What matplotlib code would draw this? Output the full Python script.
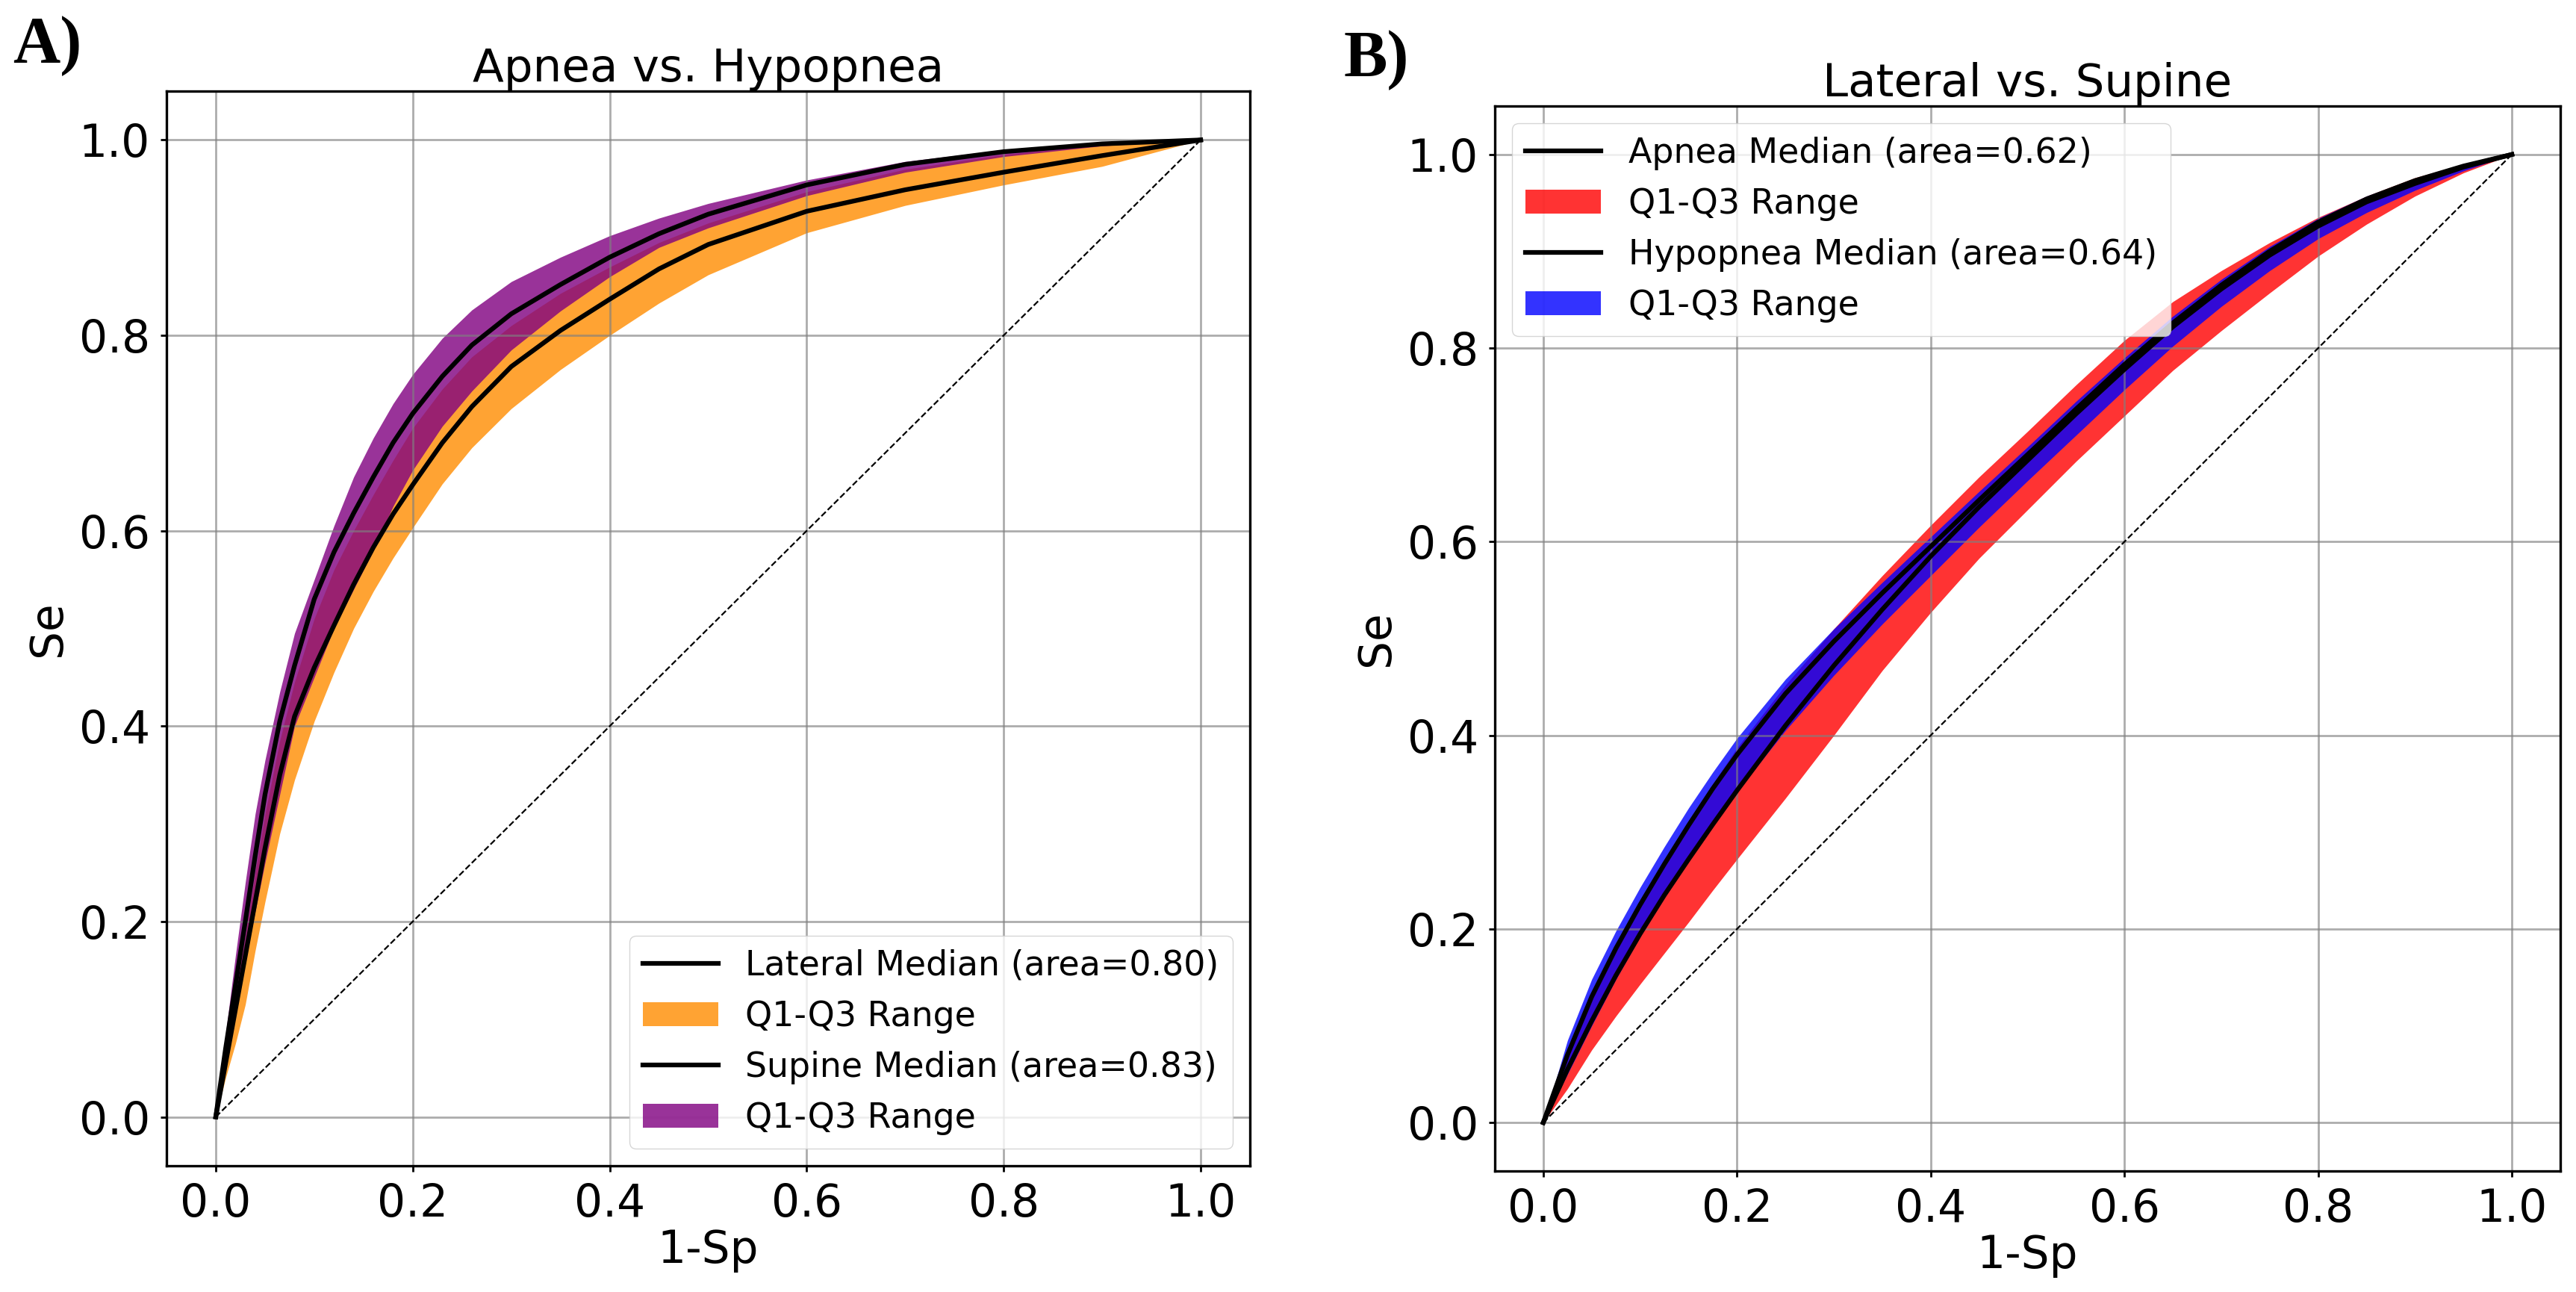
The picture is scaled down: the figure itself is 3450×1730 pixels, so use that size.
import matplotlib
matplotlib.use("Agg")
import matplotlib.pyplot as plt
import numpy as np

# ---------------- Panel A data: Apnea vs. Hypopnea ----------------
xA = [0, 0.01, 0.02, 0.03, 0.04, 0.05, 0.065, 0.08, 0.1, 0.12, 0.14, 0.16, 0.18, 0.2,
      0.23, 0.26, 0.3, 0.35, 0.4, 0.45, 0.5, 0.6, 0.7, 0.8, 0.9, 1.0]
lateral_median = [0, 0.055, 0.11, 0.165, 0.22, 0.275, 0.35, 0.41, 0.46, 0.503, 0.545, 0.583, 0.617, 0.647,
                  0.69, 0.727, 0.768, 0.805, 0.837, 0.868, 0.893, 0.927, 0.949, 0.967, 0.984, 1.0]
lateral_q1 = [0, 0.04, 0.075, 0.115, 0.17, 0.22, 0.29, 0.345, 0.405, 0.455, 0.5, 0.538, 0.572, 0.603,
              0.648, 0.685, 0.725, 0.765, 0.8, 0.833, 0.862, 0.905, 0.933, 0.954, 0.973, 1.0]
lateral_q3 = [0, 0.065, 0.125, 0.185, 0.25, 0.31, 0.385, 0.445, 0.51, 0.56, 0.6, 0.637, 0.672, 0.705,
              0.745, 0.778, 0.81, 0.843, 0.87, 0.895, 0.915, 0.947, 0.97, 0.985, 0.995, 1.0]
supine_median = [0, 0.07, 0.135, 0.2, 0.267, 0.33, 0.405, 0.462, 0.53, 0.578, 0.618, 0.655, 0.69, 0.72,
                 0.758, 0.79, 0.822, 0.852, 0.88, 0.904, 0.924, 0.954, 0.975, 0.988, 0.996, 1.0]
supine_q1 = [0, 0.055, 0.11, 0.16, 0.21, 0.26, 0.33, 0.4, 0.45, 0.5, 0.54, 0.58, 0.625, 0.662,
             0.707, 0.743, 0.785, 0.825, 0.86, 0.89, 0.91, 0.943, 0.967, 0.983, 0.994, 1.0]
supine_q3 = [0, 0.085, 0.165, 0.24, 0.31, 0.365, 0.435, 0.495, 0.55, 0.605, 0.655, 0.695, 0.73, 0.76,
             0.797, 0.826, 0.855, 0.88, 0.902, 0.92, 0.935, 0.959, 0.978, 0.99, 0.997, 1.0]

# ---------------- Panel B data: Lateral vs. Supine ----------------
xB = [0, 0.025, 0.05, 0.075, 0.1, 0.125, 0.15, 0.175, 0.2, 0.25, 0.3, 0.35, 0.4, 0.45, 0.5,
      0.55, 0.6, 0.65, 0.7, 0.75, 0.8, 0.85, 0.9, 0.95, 1.0]
apnea_median = [0, 0.055, 0.105, 0.152, 0.195, 0.235, 0.272, 0.308, 0.343, 0.41, 0.472, 0.53, 0.585, 0.636, 0.684,
                0.732, 0.778, 0.822, 0.861, 0.896, 0.926, 0.951, 0.97, 0.987, 1.0]
apnea_q1 = [0, 0.035, 0.075, 0.11, 0.143, 0.175, 0.207, 0.24, 0.272, 0.335, 0.4, 0.467, 0.527, 0.583, 0.633,
            0.683, 0.73, 0.777, 0.818, 0.857, 0.895, 0.928, 0.957, 0.981, 1.0]
apnea_q3 = [0, 0.075, 0.135, 0.185, 0.23, 0.272, 0.312, 0.35, 0.387, 0.452, 0.51, 0.565, 0.617, 0.667, 0.714,
            0.762, 0.808, 0.848, 0.88, 0.909, 0.935, 0.957, 0.976, 0.99, 1.0]
hypopnea_median = [0, 0.07, 0.13, 0.18, 0.225, 0.267, 0.307, 0.345, 0.38, 0.443, 0.497, 0.547, 0.595, 0.643, 0.69,
                   0.737, 0.783, 0.826, 0.865, 0.9, 0.93, 0.954, 0.973, 0.988, 1.0]
hypopnea_q1 = [0, 0.05, 0.1, 0.148, 0.192, 0.232, 0.27, 0.307, 0.342, 0.405, 0.462, 0.515, 0.565, 0.615, 0.663,
               0.71, 0.757, 0.802, 0.843, 0.88, 0.913, 0.94, 0.963, 0.983, 1.0]
hypopnea_q3 = [0, 0.085, 0.148, 0.198, 0.243, 0.285, 0.325, 0.362, 0.397, 0.458, 0.51, 0.558, 0.605, 0.652, 0.698,
               0.745, 0.79, 0.833, 0.871, 0.905, 0.934, 0.957, 0.975, 0.989, 1.0]

titles = ["Apnea vs. Hypopnea", "Lateral vs. Supine"]
panel_labels = ["A)", "B)"]
legendA = ["Lateral Median (area=0.80)", "Q1-Q3 Range", "Supine Median (area=0.83)", "Q1-Q3 Range"]
legendB = ["Apnea Median (area=0.62)", "Q1-Q3 Range", "Hypopnea Median (area=0.64)", "Q1-Q3 Range"]
ticks = [0.0, 0.2, 0.4, 0.6, 0.8, 1.0]

plt.rcParams['font.family'] = ['DejaVu Sans']
W, H = 3450, 1730
fig = plt.figure(figsize=(W / 100, H / 100), dpi=100)

def frac(l, r, t, b):
    return [l / W, 1 - b / H, (r - l) / W, (b - t) / H]

axA = fig.add_axes(frac(223, 1674, 122, 1561))
axB = fig.add_axes(frac(2002, 3429, 142, 1568))

LW = 4.5
TFS = 44
LFS = 33

def style(ax, title, pad):
    ax.plot([0, 1], [0, 1], 'k--', lw=1.6)
    ax.set_xlim(-0.05, 1.05)
    ax.set_ylim(-0.05, 1.05)
    ax.set_xticks(ticks)
    ax.set_yticks(ticks)
    ax.tick_params(labelsize=43, length=6, width=2, pad=10)
    ax.grid(True, color='gray', alpha=0.65, lw=2)
    for s in ax.spines.values():
        s.set_linewidth(2.4)
    ax.set_title(title, fontsize=TFS, pad=pad)
    ax.set_xlabel("1-Sp", fontsize=43, labelpad=2)
    ax.set_ylabel("Se", fontsize=43, labelpad=8)

# Panel A
axA.plot(xA, lateral_median, color='black', lw=LW, label=legendA[0])
axA.fill_between(xA, lateral_q1, lateral_q3, color='darkorange', alpha=0.8, lw=0, label=legendA[1])
axA.plot(xA, supine_median, color='black', lw=LW, label=legendA[2])
axA.fill_between(xA, supine_q1, supine_q3, color='purple', alpha=0.8, lw=0, label=legendA[3])
style(axA, titles[0], 5)
axA.legend(loc='lower right', fontsize=LFS, labelspacing=0.5, handlelength=2.2)

# Panel B
axB.plot(xB, apnea_median, color='black', lw=LW, label=legendB[0])
axB.fill_between(xB, apnea_q1, apnea_q3, color='red', alpha=0.8, lw=0, label=legendB[1])
axB.plot(xB, hypopnea_median, color='black', lw=LW, label=legendB[2])
axB.fill_between(xB, hypopnea_q1, hypopnea_q3, color='blue', alpha=0.8, lw=0, label=legendB[3])
style(axB, titles[1], 4)
axB.legend(loc='upper left', fontsize=LFS, labelspacing=0.5, handlelength=2.2)

fig.text(17 / W, 1 - 83 / H, panel_labels[0], fontsize=63, fontweight='bold',
         family='Liberation Serif', ha='left', va='baseline')
fig.text(1799 / W, 1 - 102 / H, panel_labels[1], fontsize=63, fontweight='bold',
         family='Liberation Serif', ha='left', va='baseline')

fig.savefig("out.png", dpi=100)
